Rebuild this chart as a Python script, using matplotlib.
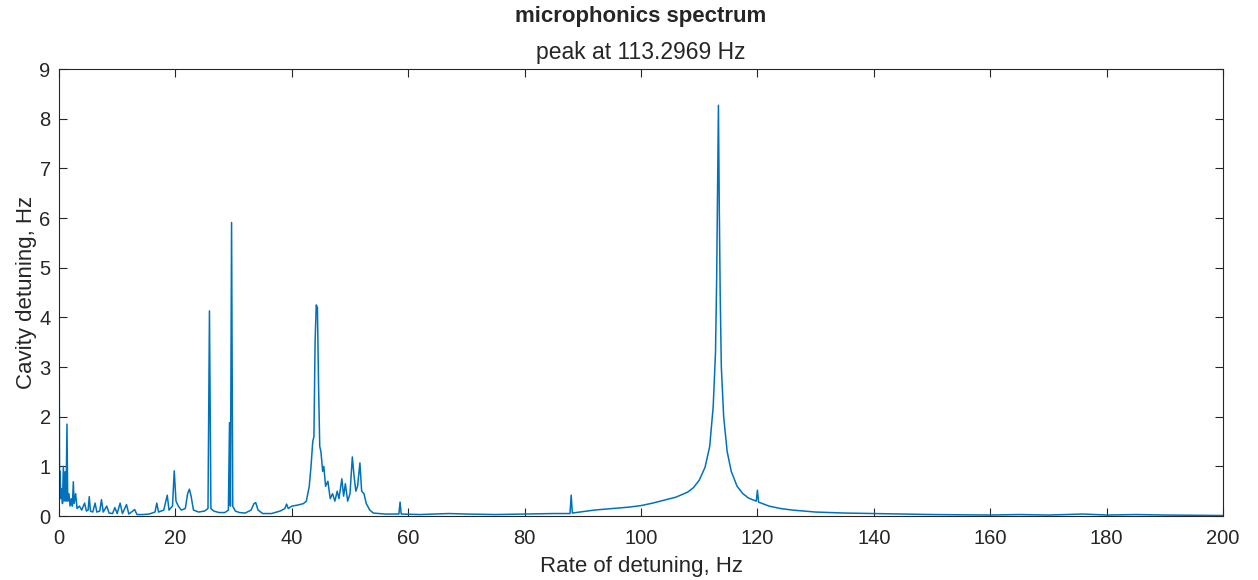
import matplotlib
matplotlib.use("Agg")
import matplotlib.pyplot as plt

# hand-read points of the detuning spectrum (Hz, Hz)
freq = [0.0, 0.1, 0.2, 0.3, 0.45, 0.6, 0.75, 0.9, 1.05, 1.2, 1.37, 1.5, 1.7, 1.9, 2.1,
        2.3, 2.46, 2.6, 2.86, 3.1, 3.5, 3.9, 4.4, 4.7, 5.0, 5.2, 5.4, 5.8, 6.2, 6.5,
        7.0, 7.3, 7.6, 8.2, 8.6, 9.2, 9.6, 10.0, 10.5, 10.9, 11.6, 12.0, 13.0, 13.4,
        14.5, 15.5, 16.5, 16.8, 17.1, 18.0, 18.6, 18.9, 19.5, 19.8, 20.1, 20.5, 21.0,
        21.7, 22.1, 22.4, 22.7, 23.1, 24.0, 25.0, 25.6, 25.85, 26.1, 26.6, 27.5, 28.5,
        29.1, 29.3, 29.45, 29.65, 29.85, 30.3, 31.0, 32.0, 33.0, 33.5, 33.8, 34.2, 35.0,
        36.5, 38.0, 38.8, 39.1, 39.4, 40.0, 41.0, 42.0, 42.5, 43.0, 43.3, 43.6, 43.8,
        44.0, 44.2, 44.4, 44.6, 44.8, 45.0, 45.3, 45.5, 45.8, 46.2, 46.6, 47.0, 47.4,
        47.8, 48.1, 48.6, 48.9, 49.2, 49.6, 50.0, 50.4, 50.7, 51.0, 51.3, 51.7, 52.0,
        52.4, 52.8, 53.4, 54.0, 56.0, 58.4, 58.6, 58.8, 62.0, 67.0, 70.0, 75.0, 80.0,
        85.0, 87.8, 88.0, 88.2, 92.0, 96.0, 98.0, 100.0, 102.0, 104.0, 106.0, 108.0,
        109.0, 110.0, 111.0, 111.8, 112.4, 112.8, 113.0, 113.15, 113.3, 113.45, 113.6,
        113.8, 114.2, 114.8, 115.5, 116.5, 117.5, 118.5, 119.8, 120.0, 120.2, 122.0,
        124.0, 126.0, 130.0, 135.0, 140.0, 145.0, 150.0, 160.0, 165.0, 170.0, 176.0,
        180.0, 185.0, 190.0, 200.0]
amp = [4.65, 0.5, 0.9, 0.35, 0.55, 0.25, 1.0, 0.3, 0.89, 0.3, 1.85, 0.3, 0.45, 0.2, 0.35,
       0.2, 0.69, 0.25, 0.45, 0.15, 0.2, 0.12, 0.26, 0.1, 0.12, 0.39, 0.1, 0.08, 0.26, 0.08,
       0.1, 0.33, 0.08, 0.2, 0.06, 0.05, 0.17, 0.05, 0.26, 0.05, 0.23, 0.04, 0.13, 0.03,
       0.03, 0.04, 0.08, 0.26, 0.08, 0.12, 0.42, 0.12, 0.2, 0.91, 0.3, 0.2, 0.12,
       0.15, 0.45, 0.54, 0.4, 0.12, 0.08, 0.1, 0.15, 4.13, 0.15, 0.1, 0.07, 0.07,
       0.12, 1.88, 0.2, 5.91, 0.2, 0.1, 0.07, 0.06, 0.12, 0.25, 0.27, 0.12, 0.05,
       0.05, 0.1, 0.15, 0.24, 0.15, 0.2, 0.22, 0.25, 0.3, 0.6, 1.0, 1.5, 1.6,
       3.5, 4.25, 4.2, 2.6, 1.4, 1.3, 0.9, 1.0, 0.6, 0.7, 0.35, 0.45, 0.3,
       0.5, 0.35, 0.75, 0.4, 0.65, 0.3, 0.45, 1.19, 0.8, 0.5, 0.6, 1.07, 0.5,
       0.45, 0.25, 0.12, 0.06, 0.04, 0.04, 0.28, 0.04, 0.03, 0.05, 0.04, 0.03, 0.04,
       0.05, 0.05, 0.42, 0.06, 0.12, 0.16, 0.18, 0.21, 0.26, 0.32, 0.38, 0.48,
       0.57, 0.72, 0.98, 1.4, 2.2, 3.3, 4.8, 6.6, 8.27, 6.2, 4.5,
       3.0, 2.0, 1.3, 0.9, 0.6, 0.45, 0.36, 0.3, 0.52, 0.28, 0.2,
       0.15, 0.12, 0.08, 0.06, 0.05, 0.04, 0.03, 0.02, 0.03, 0.02, 0.04,
       0.02, 0.03, 0.02, 0.01]

plt.rcParams['font.family'] = ['Liberation Sans', 'DejaVu Sans']
dark = '#262626'

fig = plt.figure(figsize=(12.58, 5.8), dpi=100)
ax = fig.add_axes([0.0469, 0.1103, 0.9253, 0.7707])
ax.plot(freq, amp, color='#0072BD', lw=1.1)

ax.set_xlim(0, 200)
ax.set_ylim(0, 9)
ax.set_xticks(range(0, 201, 20))
ax.set_yticks(range(0, 10))
ax.tick_params(direction='in', top=True, right=True, labelsize=14.5, length=6,
               width=0.8, colors=dark)
ax.tick_params(axis='x', pad=9)
ax.tick_params(axis='y', pad=6)
for s in ax.spines.values():
    s.set_color(dark)
    s.set_linewidth(0.8)

ax.set_xlabel('Rate of detuning, Hz', fontsize=16, color=dark, labelpad=6)
ax.set_ylabel('Cavity detuning, Hz', fontsize=16, color=dark, labelpad=2)
# titles centred over the axes box
fig.text(0.5095, 0.9707, 'microphonics spectrum', ha='center', va='center',
         fontsize=16, fontweight='bold', color=dark)
fig.text(0.5095, 0.9103, 'peak at 113.2969 Hz', ha='center', va='center',
         fontsize=16.5, color=dark)

fig.savefig('out.png', dpi=100)
